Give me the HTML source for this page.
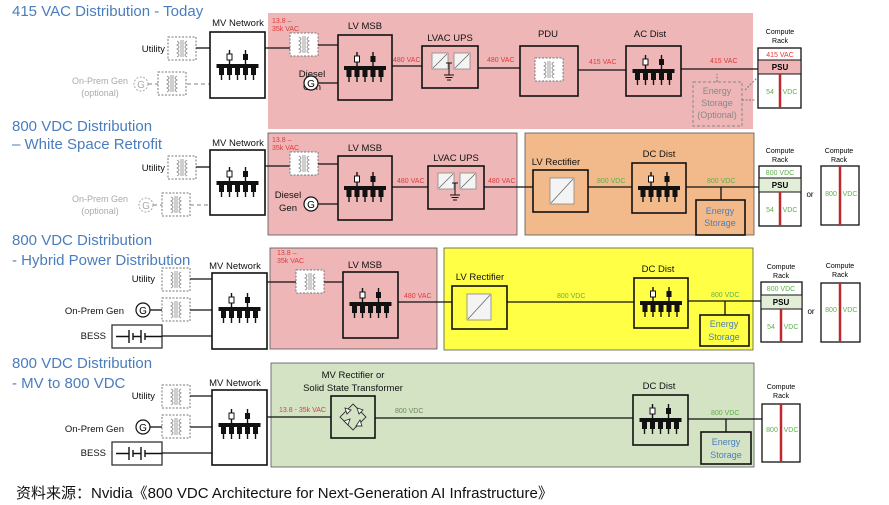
<!DOCTYPE html>
<html><head><meta charset="utf-8"><style>
html,body{margin:0;padding:0;background:#fff;}
svg{display:block;font-family:"Liberation Sans","Noto Sans CJK SC",sans-serif;}
.t{fill:#4a7dbd;font-size:15px;}
.l{font-size:9.5px;fill:#111;}
.r{font-size:7px;fill:#e03a3a;}
.g{font-size:7px;fill:#5cb04a;}
.gy{font-size:9px;fill:#aaa;}
.bx{fill:none;stroke:#111;stroke-width:1.6;}
.wl{stroke:#111;stroke-width:1.3;fill:none;}
.dl{stroke:#999;stroke-width:1.3;fill:none;stroke-dasharray:4 3;}
</style></head><body>
<svg width="889" height="505" viewBox="0 0 889 505">
<defs>
<g id="bus">
 <line x1="-8" y1="-14" x2="-8" y2="0" stroke="#111" stroke-width="1.4"/>
 <line x1="8" y1="-14" x2="8" y2="0" stroke="#111" stroke-width="1.4"/>
 <rect x="-10.5" y="-10" width="5" height="6" fill="#fff" stroke="#111" stroke-width="1"/>
 <rect x="5.5" y="-10" width="5" height="6" fill="#111"/>
 <rect x="-21" y="0" width="42" height="4" fill="#111"/>
 <g fill="#111">
  <rect x="-18.5" y="4" width="5" height="7"/><rect x="-10.5" y="4" width="5" height="7"/><rect x="-2.5" y="4" width="5" height="7"/><rect x="5.5" y="4" width="5" height="7"/><rect x="13.5" y="4" width="5" height="7"/>
 </g>
 <g stroke="#111" stroke-width="1.4"><line x1="-16" y1="11" x2="-16" y2="16"/><line x1="-8" y1="11" x2="-8" y2="16"/><line x1="0" y1="11" x2="0" y2="16"/><line x1="8" y1="11" x2="8" y2="16"/><line x1="16" y1="11" x2="16" y2="16"/></g>
</g>
<g id="xf">
 <rect x="0" y="0" width="28" height="23" fill="#fff" stroke="#777" stroke-width="1" stroke-dasharray="2 1.5"/>
 <path d="M9 4 q4 2 0 4 q4 2 0 4 q4 2 0 4 q4 2 0 4 M19 4 q-4 2 0 4 q-4 2 0 4 q-4 2 0 4 q-4 2 0 4 M13 3 v17 M15 3 v17" stroke="#888" stroke-width="0.8" fill="none"/>
</g>
<g id="conv">
 <rect x="0" y="0" width="16" height="16" fill="#f4f4f4" stroke="#888" stroke-width="0.8"/>
 <line x1="1" y1="15" x2="15" y2="1" stroke="#666" stroke-width="0.8"/>
</g>
<g id="bess">
 <rect x="0" y="0" width="50" height="23" fill="#fff" stroke="#333" stroke-width="1.3"/>
 <path d="M4 11.5 H17 M17 5 V18 M21 8 V15 M21 11.5 H29 M29 5 V18 M33 8 V15 M33 11.5 H50" stroke="#111" stroke-width="1.4" fill="none"/>
</g>
</defs>

<!-- ============ ROW 1 ============ -->
<text class="t" x="12" y="16">415 VAC Distribution - Today</text>
<rect x="268" y="13" width="485" height="116" fill="#eeb6b7"/>
<text class="l" x="165" y="52" text-anchor="end">Utility</text>
<use href="#xf" x="168" y="37"/>
<line class="wl" x1="196" y1="48" x2="210" y2="48"/>
<text class="gy" x="100" y="84" text-anchor="middle">On-Prem Gen</text>
<text class="gy" x="100" y="96" text-anchor="middle">(optional)</text>
<circle cx="141" cy="84" r="7" fill="none" stroke="#aaa" stroke-dasharray="2 1.5"/><text x="141" y="88" font-size="10" fill="#aaa" text-anchor="middle">G</text>
<line class="dl" x1="148" y1="84" x2="158" y2="84"/>
<use href="#xf" x="158" y="72"/>
<line class="dl" x1="187" y1="84" x2="210" y2="84"/>
<text class="l" x="238" y="26" text-anchor="middle">MV Network</text>
<rect class="bx" x="210" y="32" width="55" height="66" fill="#fff"/>
<use href="#bus" x="237.5" y="64"/>
<line class="wl" x1="265" y1="48" x2="290" y2="48"/>
<text class="r" x="272" y="23">13.8 –</text><text class="r" x="272" y="31">35k VAC</text>
<use href="#xf" x="290" y="33"/>
<line class="wl" x1="318" y1="45" x2="338" y2="45"/>
<text class="l" x="312" y="77" text-anchor="middle">Diesel</text><text class="l" x="312" y="90" text-anchor="middle">Gen</text>
<circle cx="311" cy="83" r="7" fill="#fff" stroke="#111" stroke-width="1.2"/><text x="311" y="87" font-size="10" text-anchor="middle">G</text>
<line class="wl" x1="318" y1="83" x2="338" y2="83"/>
<text class="l" x="365" y="29" text-anchor="middle">LV MSB</text>
<rect class="bx" x="338" y="35" width="54" height="65"/>
<use href="#bus" x="365" y="66"/>
<text class="r" x="393" y="62">480 VAC</text>
<line class="wl" x1="392" y1="66" x2="422" y2="66"/>
<text class="l" x="450" y="41" text-anchor="middle">LVAC UPS</text>
<rect class="bx" x="422" y="46" width="56" height="42"/>
<use href="#conv" x="432" y="53"/><use href="#conv" x="454" y="53"/>
<path d="M446 63 h6 M449 63 v12 M444 75 h10 M445.5 77.5 h7 M447 80 h4" stroke="#111" stroke-width="1" fill="none"/>
<text class="r" x="487" y="62">480 VAC</text>
<line class="wl" x1="478" y1="68" x2="520" y2="68"/>
<text class="l" x="548" y="37" text-anchor="middle">PDU</text>
<rect class="bx" x="520" y="46" width="58" height="50"/>
<use href="#xf" x="535" y="58"/>
<text class="r" x="589" y="64">415 VAC</text>
<line class="wl" x1="578" y1="70" x2="626" y2="70"/>
<text class="l" x="650" y="37" text-anchor="middle">AC Dist</text>
<rect class="bx" x="626" y="46" width="55" height="50"/>
<use href="#bus" x="653.5" y="69"/>
<line class="wl" x1="681" y1="69" x2="758" y2="69"/>
<text class="r" x="710" y="63">415 VAC</text>
<rect x="693" y="82" width="49" height="44" fill="none" stroke="#888" stroke-width="1" stroke-dasharray="3 2"/>
<text x="717" y="94" font-size="9" fill="#888" text-anchor="middle">Energy</text>
<text x="717" y="106" font-size="9" fill="#888" text-anchor="middle">Storage</text>
<text x="717" y="118" font-size="9" fill="#888" text-anchor="middle">(Optional)</text>
<path d="M717 82 v-8 M742 100 h14 M745 90 l12 -12" stroke="#777" stroke-dasharray="2 1.5" fill="none"/>
<text x="780" y="34" font-size="7" text-anchor="middle">Compute</text><text x="780" y="43" font-size="7" text-anchor="middle">Rack</text>
<rect x="758" y="48" width="43" height="60" fill="#fff" stroke="#111" stroke-width="1.3"/>
<rect x="758" y="60" width="43" height="14" fill="#eeb6b7" stroke="#111" stroke-width="1"/>
<text class="r" x="780" y="57" text-anchor="middle">415 VAC</text>
<text x="780" y="70" font-size="8" font-weight="bold" text-anchor="middle">PSU</text>
<line x1="780" y1="74" x2="780" y2="108" stroke="#c0282d" stroke-width="2.5"/>
<text class="g" x="770" y="94" text-anchor="middle">54</text><text class="g" x="790" y="94" text-anchor="middle">VDC</text>

<!-- ============ ROW 2 ============ -->
<text class="t" x="12" y="131">800 VDC Distribution</text>
<text class="t" x="12" y="149">– White Space Retrofit</text>
<rect x="268" y="133" width="249" height="102" fill="#eeb6b7" stroke="#555" stroke-width="0.8"/>
<rect x="525" y="133" width="229" height="102" fill="#f2ba8b" stroke="#555" stroke-width="0.8"/>
<text class="l" x="165" y="171" text-anchor="end">Utility</text>
<use href="#xf" x="168" y="156"/>
<line class="wl" x1="196" y1="167" x2="210" y2="167"/>
<text class="gy" x="100" y="202" text-anchor="middle">On-Prem Gen</text>
<text class="gy" x="100" y="214" text-anchor="middle">(optional)</text>
<circle cx="146" cy="205" r="7" fill="none" stroke="#aaa" stroke-dasharray="2 1.5"/><text x="146" y="209" font-size="10" fill="#aaa" text-anchor="middle">G</text>
<line class="dl" x1="153" y1="205" x2="162" y2="205"/>
<use href="#xf" x="162" y="193"/>
<line class="dl" x1="190" y1="205" x2="210" y2="205"/>
<text class="l" x="238" y="146" text-anchor="middle">MV Network</text>
<rect class="bx" x="210" y="150" width="55" height="65" fill="#fff"/>
<use href="#bus" x="237.5" y="181"/>
<line class="wl" x1="265" y1="166" x2="290" y2="166"/>
<text class="r" x="272" y="142">13.8 –</text><text class="r" x="272" y="150">35k VAC</text>
<use href="#xf" x="290" y="152"/>
<line class="wl" x1="318" y1="164" x2="338" y2="164"/>
<text class="l" x="288" y="198" text-anchor="middle">Diesel</text><text class="l" x="288" y="211" text-anchor="middle">Gen</text>
<circle cx="311" cy="204" r="7" fill="#fff" stroke="#111" stroke-width="1.2"/><text x="311" y="208" font-size="10" text-anchor="middle">G</text>
<line class="wl" x1="318" y1="204" x2="338" y2="204"/>
<text class="l" x="365" y="151" text-anchor="middle">LV MSB</text>
<rect class="bx" x="338" y="156" width="54" height="64"/>
<use href="#bus" x="365" y="186"/>
<text class="r" x="397" y="183">480 VAC</text>
<line class="wl" x1="392" y1="187" x2="428" y2="187"/>
<text class="l" x="456" y="161" text-anchor="middle">LVAC UPS</text>
<rect class="bx" x="428" y="166" width="56" height="43"/>
<use href="#conv" x="438" y="173"/><use href="#conv" x="460" y="173"/>
<path d="M452 183 h6 M455 183 v12 M450 195 h10 M451.5 197.5 h7 M453 200 h4" stroke="#111" stroke-width="1" fill="none"/>
<text class="r" x="488" y="183">480 VAC</text>
<line class="wl" x1="484" y1="187" x2="533" y2="187"/>
<text class="l" x="556" y="165" text-anchor="middle">LV Rectifier</text>
<rect class="bx" x="533" y="170" width="55" height="42"/>
<rect x="550" y="178" width="24" height="26" fill="#f4f4f4" stroke="#888" stroke-width="0.8"/><line x1="551" y1="203" x2="573" y2="179" stroke="#666" stroke-width="0.8"/>
<text class="g" x="597" y="183">800 VDC</text>
<line class="wl" x1="588" y1="187" x2="632" y2="187"/>
<text class="l" x="659" y="157" text-anchor="middle">DC Dist</text>
<rect class="bx" x="632" y="163" width="54" height="50"/>
<use href="#bus" x="659" y="186"/>
<line class="wl" x1="686" y1="187" x2="759" y2="187"/>
<line class="wl" x1="721" y1="187" x2="721" y2="200"/>
<text class="g" x="707" y="183">800 VDC</text>
<rect class="bx" x="696" y="200" width="49" height="35"/>
<text x="720" y="214" font-size="9" fill="#4a7dbd" text-anchor="middle">Energy</text>
<text x="720" y="226" font-size="9" fill="#4a7dbd" text-anchor="middle">Storage</text>
<text x="780" y="153" font-size="7" text-anchor="middle">Compute</text><text x="780" y="162" font-size="7" text-anchor="middle">Rack</text>
<rect x="759" y="166" width="42" height="60" fill="#fff" stroke="#111" stroke-width="1.3"/>
<rect x="759" y="178" width="42" height="14" fill="#e2eed8" stroke="#111" stroke-width="1"/>
<text class="g" x="780" y="175" text-anchor="middle">800 VDC</text>
<text x="780" y="188" font-size="8" font-weight="bold" text-anchor="middle">PSU</text>
<line x1="780" y1="192" x2="780" y2="226" stroke="#c0282d" stroke-width="2.5"/>
<text class="g" x="770" y="212" text-anchor="middle">54</text><text class="g" x="790" y="212" text-anchor="middle">VDC</text>
<text x="810" y="197" font-size="8" text-anchor="middle">or</text>
<text x="839" y="153" font-size="7" text-anchor="middle">Compute</text><text x="839" y="162" font-size="7" text-anchor="middle">Rack</text>
<rect x="821" y="166" width="38" height="59" fill="#fff" stroke="#111" stroke-width="1.3"/>
<line x1="840" y1="166" x2="840" y2="225" stroke="#c0282d" stroke-width="2.5"/>
<text class="g" x="831" y="196" text-anchor="middle">800</text><text class="g" x="850" y="196" text-anchor="middle">VDC</text>

<!-- ============ ROW 3 ============ -->
<text class="t" x="12" y="245">800 VDC Distribution</text>
<text class="t" x="12" y="265">- Hybrid Power Distribution</text>
<rect x="270" y="248" width="167" height="101" fill="#eeb6b7" stroke="#555" stroke-width="0.8"/>
<rect x="444" y="248" width="309" height="102" fill="#ffff45" stroke="#555" stroke-width="0.8"/>
<text class="l" x="155" y="282" text-anchor="end">Utility</text>
<use href="#xf" x="162" y="268"/>
<line class="wl" x1="190" y1="279" x2="212" y2="279"/>
<text class="l" x="124" y="314" text-anchor="end">On-Prem Gen</text>
<circle cx="143" cy="310" r="7" fill="#fff" stroke="#111" stroke-width="1.2"/><text x="143" y="314" font-size="10" text-anchor="middle">G</text>
<line class="wl" x1="150" y1="310" x2="162" y2="310"/>
<use href="#xf" x="162" y="298"/>
<line class="wl" x1="190" y1="310" x2="212" y2="310"/>
<text class="l" x="106" y="339" text-anchor="end">BESS</text>
<use href="#bess" x="112" y="325"/>
<line class="wl" x1="162" y1="336" x2="212" y2="336"/>
<text class="l" x="235" y="269" text-anchor="middle">MV Network</text>
<rect class="bx" x="212" y="273" width="55" height="76" fill="#fff"/>
<use href="#bus" x="239.5" y="307"/>
<line class="wl" x1="267" y1="282" x2="296" y2="282"/>
<text class="r" x="277" y="255">13.8 –</text><text class="r" x="277" y="263">35k VAC</text>
<use href="#xf" x="296" y="270"/>
<line class="wl" x1="324" y1="282" x2="343" y2="282"/>
<text class="l" x="365" y="268" text-anchor="middle">LV MSB</text>
<rect class="bx" x="343" y="272" width="55" height="66"/>
<use href="#bus" x="370.5" y="302"/>
<text class="r" x="404" y="298">480 VAC</text>
<line class="wl" x1="398" y1="302" x2="452" y2="302"/>
<text class="l" x="480" y="280" text-anchor="middle">LV Rectifier</text>
<rect class="bx" x="452" y="286" width="55" height="43"/>
<rect x="467" y="294" width="24" height="26" fill="#f4f4f4" stroke="#888" stroke-width="0.8"/><line x1="468" y1="319" x2="490" y2="295" stroke="#666" stroke-width="0.8"/>
<text class="g" x="557" y="298">800 VDC</text>
<line class="wl" x1="507" y1="302" x2="634" y2="302"/>
<text class="l" x="658" y="272" text-anchor="middle">DC Dist</text>
<rect class="bx" x="634" y="278" width="54" height="50"/>
<use href="#bus" x="661" y="301"/>
<line class="wl" x1="688" y1="301" x2="761" y2="301"/>
<line class="wl" x1="725" y1="301" x2="725" y2="315"/>
<text class="g" x="711" y="297">800 VDC</text>
<rect class="bx" x="700" y="315" width="49" height="31"/>
<text x="724" y="327" font-size="9" fill="#4a7dbd" text-anchor="middle">Energy</text>
<text x="724" y="340" font-size="9" fill="#4a7dbd" text-anchor="middle">Storage</text>
<text x="781" y="269" font-size="7" text-anchor="middle">Compute</text><text x="781" y="278" font-size="7" text-anchor="middle">Rack</text>
<rect x="761" y="282" width="41" height="60" fill="#fff" stroke="#111" stroke-width="1.3"/>
<rect x="761" y="295" width="41" height="14" fill="#e2eed8" stroke="#111" stroke-width="1"/>
<text class="g" x="781" y="291" text-anchor="middle">800 VDC</text>
<text x="781" y="305" font-size="8" font-weight="bold" text-anchor="middle">PSU</text>
<line x1="781" y1="309" x2="781" y2="342" stroke="#c0282d" stroke-width="2.5"/>
<text class="g" x="771" y="329" text-anchor="middle">54</text><text class="g" x="791" y="329" text-anchor="middle">VDC</text>
<text x="811" y="314" font-size="8" text-anchor="middle">or</text>
<text x="840" y="268" font-size="7" text-anchor="middle">Compute</text><text x="840" y="277" font-size="7" text-anchor="middle">Rack</text>
<rect x="821" y="283" width="39" height="59" fill="#fff" stroke="#111" stroke-width="1.3"/>
<line x1="840" y1="283" x2="840" y2="342" stroke="#c0282d" stroke-width="2.5"/>
<text class="g" x="831" y="312" text-anchor="middle">800</text><text class="g" x="850" y="312" text-anchor="middle">VDC</text>

<!-- ============ ROW 4 ============ -->
<text class="t" x="12" y="368">800 VDC Distribution</text>
<text class="t" x="12" y="388">- MV to 800 VDC</text>
<rect x="271" y="363" width="483" height="104" fill="#d3e3c4" stroke="#555" stroke-width="0.8"/>
<text class="l" x="155" y="399" text-anchor="end">Utility</text>
<use href="#xf" x="162" y="385"/>
<line class="wl" x1="190" y1="396" x2="212" y2="396"/>
<text class="l" x="124" y="432" text-anchor="end">On-Prem Gen</text>
<circle cx="143" cy="427" r="7" fill="#fff" stroke="#111" stroke-width="1.2"/><text x="143" y="431" font-size="10" text-anchor="middle">G</text>
<line class="wl" x1="150" y1="427" x2="162" y2="427"/>
<use href="#xf" x="162" y="415"/>
<line class="wl" x1="190" y1="427" x2="212" y2="427"/>
<text class="l" x="106" y="456" text-anchor="end">BESS</text>
<use href="#bess" x="112" y="442"/>
<line class="wl" x1="162" y1="453" x2="212" y2="453"/>
<text class="l" x="235" y="386" text-anchor="middle">MV Network</text>
<rect class="bx" x="212" y="390" width="55" height="75" fill="#fff"/>
<use href="#bus" x="239.5" y="423"/>
<line class="wl" x1="267" y1="417" x2="331" y2="417"/>
<text class="r" x="279" y="412">13.8 - 35k VAC</text>
<text class="l" x="353" y="378" text-anchor="middle">MV Rectifier or</text>
<text class="l" x="353" y="391" text-anchor="middle">Solid State Transformer</text>
<rect class="bx" x="331" y="396" width="44" height="42"/>
<g transform="translate(353,417)" stroke="#333" stroke-width="0.9" fill="#fff">
 <path d="M0 -13 L13 0 L0 13 L-13 0 Z" fill="none"/>
 <path d="M-8 -9 l6 2 l-4 4 z M4 -9 l2 6 l4 -4 z M-9 4 l6 -2 l-2 6 z M7 3 l-4 6 l6 0 z"/>
</g>
<text x="395" y="413" font-size="7" fill="#6a8a5a">800 VDC</text>
<line class="wl" x1="375" y1="418" x2="633" y2="418"/>
<text class="l" x="659" y="389" text-anchor="middle">DC Dist</text>
<rect class="bx" x="633" y="395" width="55" height="50"/>
<use href="#bus" x="660.5" y="418"/>
<line class="wl" x1="688" y1="419" x2="762" y2="419"/>
<line class="wl" x1="726" y1="419" x2="726" y2="432"/>
<text class="g" x="711" y="415" fill="#6a8a5a">800 VDC</text>
<rect class="bx" x="701" y="432" width="50" height="32"/>
<text x="726" y="445" font-size="9" fill="#4a7dbd" text-anchor="middle">Energy</text>
<text x="726" y="458" font-size="9" fill="#4a7dbd" text-anchor="middle">Storage</text>
<text x="781" y="389" font-size="7" text-anchor="middle">Compute</text><text x="781" y="398" font-size="7" text-anchor="middle">Rack</text>
<rect x="762" y="404" width="38" height="58" fill="#fff" stroke="#111" stroke-width="1.3"/>
<line x1="781" y1="404" x2="781" y2="462" stroke="#c0282d" stroke-width="2.5"/>
<text class="g" x="772" y="432" text-anchor="middle">800</text><text class="g" x="791" y="432" text-anchor="middle">VDC</text>

<text x="16" y="498" font-size="15" fill="#111">资料来源：Nvidia《800 VDC Architecture for Next-Generation AI Infrastructure》</text>
</svg>
</body></html>
